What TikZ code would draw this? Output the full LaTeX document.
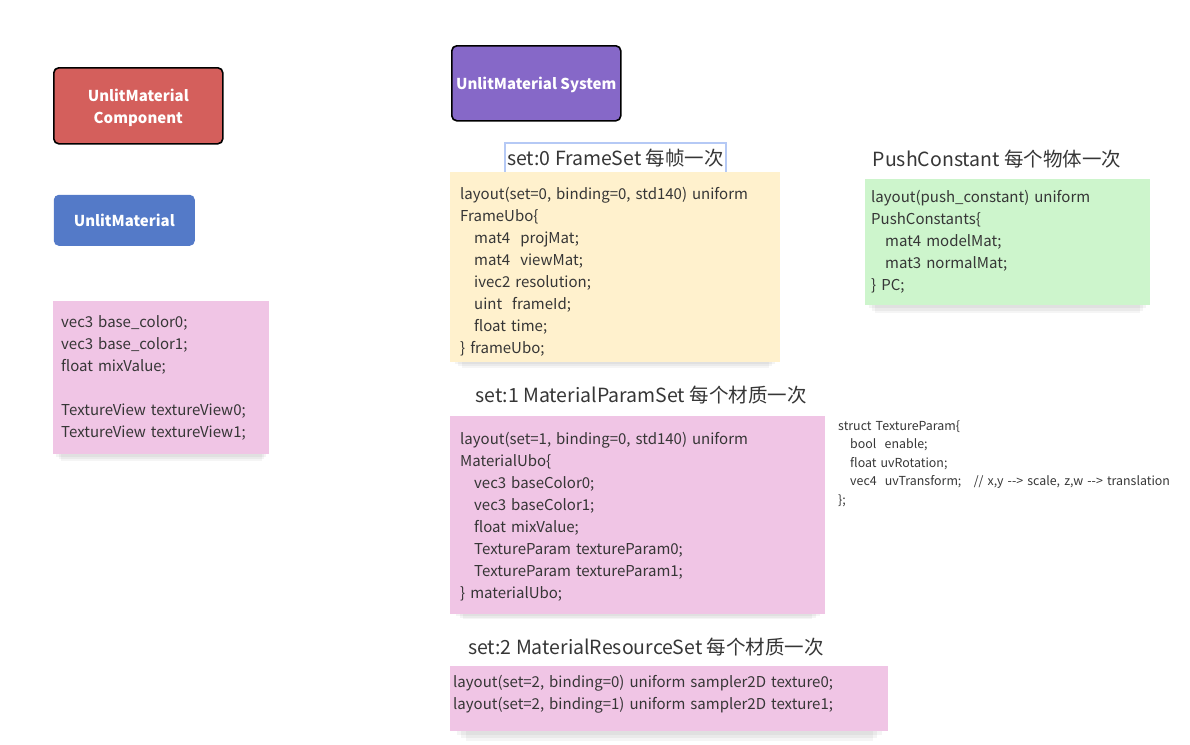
\documentclass[tikz,border=0pt]{standalone}
\usepackage{fontspec}
\setmainfont{Noto Sans CJK SC}
\usetikzlibrary{positioning}
\usetikzlibrary{shadows}
\definecolor{compred}{HTML}{D45F5C}
\definecolor{matblue}{HTML}{547AC8}
\definecolor{syspurple}{HTML}{8668C8}
\definecolor{notepink}{HTML}{F0C5E5}
\definecolor{noteyellow}{HTML}{FFF1CD}
\definecolor{notegreen}{HTML}{CDF5CC}
\definecolor{selblue}{HTML}{B5C9F5}
\definecolor{inkgray}{HTML}{363636}
\newcommand{\codeind}{\hspace*{14pt}}
\tikzset{every node/.style={text=inkgray},
header/.style={ % coloured boxes at the top
rectangle, anchor=north west,
rounded corners=5pt,
line width=1.6pt,
text=white,
align=center,
font=\fontsize{15}{22}\selectfont\bfseries},
lifted/.style={ % soft shadow under the sticky notes
general shadow={fill=black, opacity=.045, shadow yshift=-5pt, shadow scale=.97},
general shadow={fill=black, opacity=.045, shadow yshift=-9pt, shadow scale=.95},
general shadow={fill=black, opacity=.04, shadow yshift=-13pt, shadow scale=.93}},
note/.style={ % sticky notes holding the shader code
rectangle, anchor=north west,
lifted,
inner xsep=10pt, inner ysep=0pt,
align=left,
font=\fontsize{15}{22}\selectfont},
title/.style={font=\fontsize{19.5}{24}\selectfont}}

\begin{document}
\begin{tikzpicture}[x=1pt, y=-1pt]
\useasboundingbox (0,0) rectangle (1190,744);
% components and systems
\node[header, draw=black, fill=compred, minimum width=169pt, minimum height=76pt, text depth=0pt] (component) at (53,67) {UnlitMaterial\\Component};
\node[header, fill=matblue, minimum width=141pt, minimum height=51pt] (material) at (53,194) {UnlitMaterial};
\node[header, draw=black, fill=syspurple, minimum width=169pt, minimum height=75pt, text depth=0pt] (system) at (451,45) {UnlitMaterial System};

% material fields
\node[note, fill=notepink, inner xsep=8pt, text width=200pt, minimum height=153pt] (fields) at (53,301) {vec3 base\_color0;\\vec3 base\_color1;\\float mixValue;\\[22pt]TextureView textureView0;\\TextureView textureView1;};

% set 0
\node[title, draw=selblue, line width=1.5pt, inner sep=0pt, minimum width=221pt, minimum height=30pt] (frametitle) at (615.5,158) {set:0 FrameSet 每帧一次};
\node[note, fill=noteyellow, text width=310pt, minimum height=190pt, text height=20.5pt] (frameset) at (450,172) {layout(set=0, binding=0, std140) uniform\\FrameUbo\{\\\codeind mat4~ projMat;\\\codeind mat4~ viewMat;\\\codeind ivec2 resolution;\\\codeind uint~ frameId;\\\codeind float time;\\\} frameUbo;};

% push constants
\node[title] (pushtitle) at (997,159) {PushConstant 每个物体一次};
\node[note, fill=notegreen, inner xsep=6pt, text width=273pt, minimum height=126pt] (pushconst) at (865,179) {layout(push\_constant) uniform\\PushConstants\{\\\codeind mat4 modelMat;\\\codeind mat3 normalMat;\\\} PC;};

% set 1
\node[title] (paramtitle) at (641,395) {set:1 MaterialParamSet 每个材质一次};
\node[note, fill=notepink, text width=355pt, minimum height=198pt, text height=16pt] (paramset) at (450,416) {layout(set=1, binding=0, std140) uniform\\MaterialUbo\{\\\codeind vec3 baseColor0;\\\codeind vec3 baseColor1;\\\codeind float mixValue;\\\codeind TextureParam textureParam0;\\\codeind TextureParam textureParam1;\\\} materialUbo;};
\node[anchor=base west, inner sep=0pt, text width=345pt, align=left, font=\fontsize{12.4}{18.6}\selectfont] (texparam) at (838,430) {struct TextureParam\{\\\hspace*{12pt}bool~ enable;\\\hspace*{12pt}float uvRotation;\\\hspace*{12pt}vec4~ uvTransform;~~ // x,y -{}-{}> scale, z,w -{}-{}> translation\\\};};

% set 2
\node[title] (restitle) at (646,647) {set:2 MaterialResourceSet 每个材质一次};
\node[note, fill=notepink, inner xsep=3pt, text width=432pt, minimum height=65pt, text depth=34pt] (resset) at (450,666) {layout(set=2, binding=0) uniform sampler2D texture0;\\layout(set=2, binding=1) uniform sampler2D texture1;};
\end{tikzpicture}
\end{document}
